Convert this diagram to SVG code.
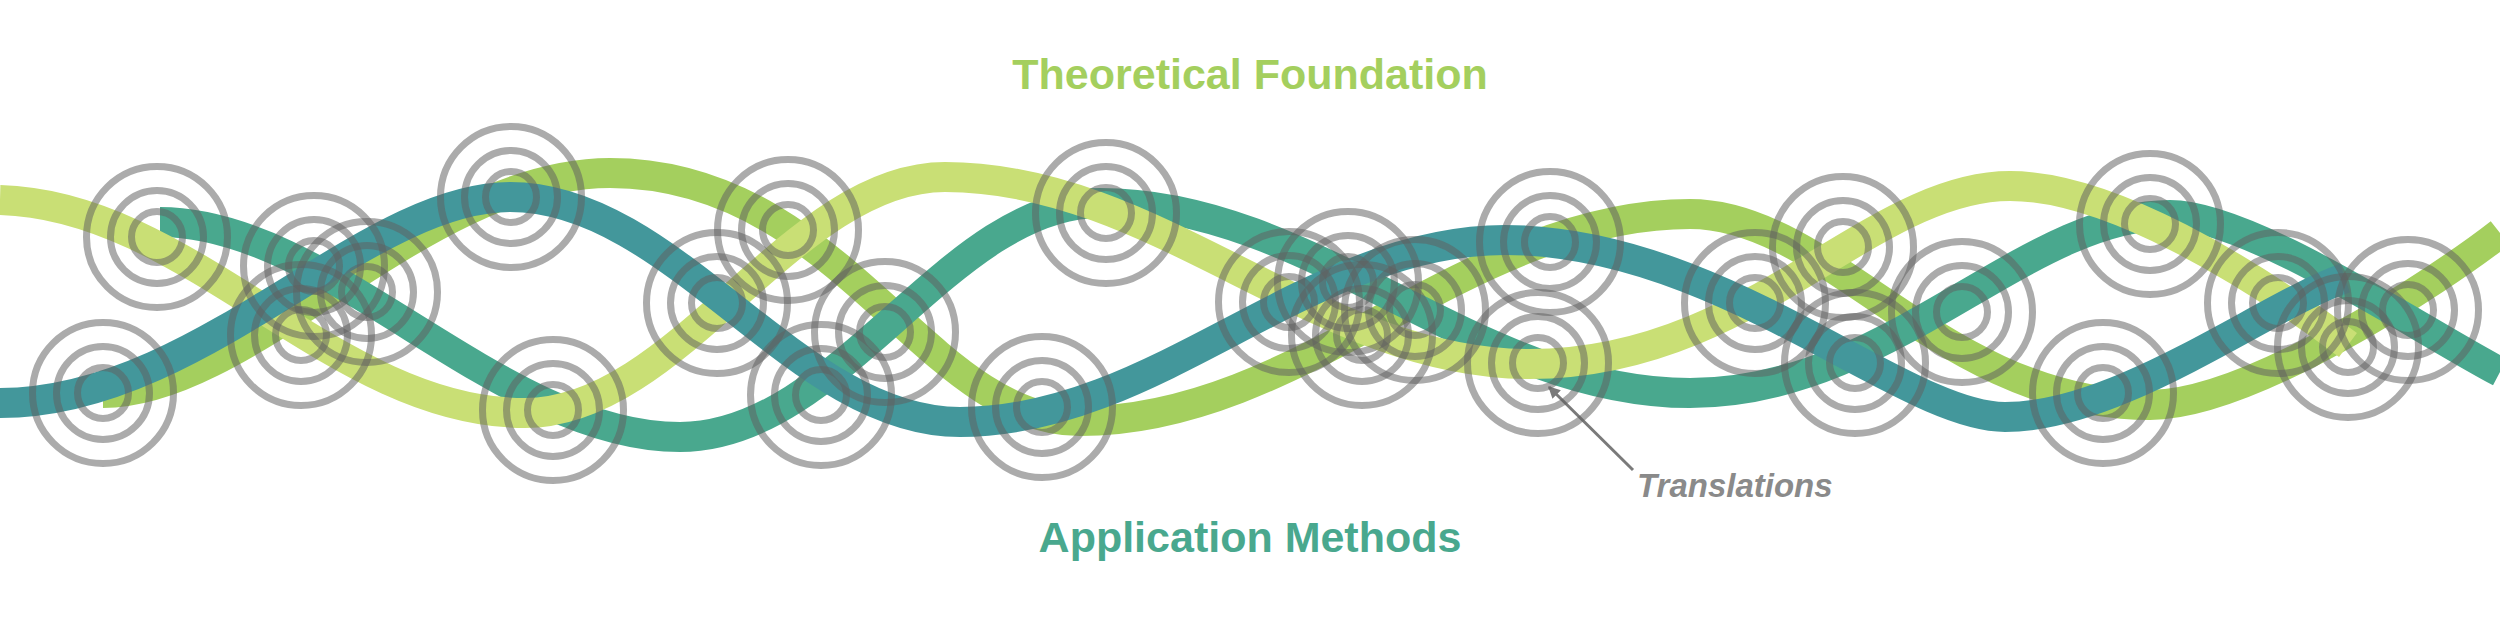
<svg xmlns="http://www.w3.org/2000/svg" xmlns:xlink="http://www.w3.org/1999/xlink" width="2500" height="639" viewBox="0 0 2500 639">
<style>
.strand{fill:none;stroke-width:30;stroke-linecap:butt}
.lg{stroke:#c9df75}.mg{stroke:#a4cf5e}.tg{stroke:#49a88e}.dt{stroke:#43979b}
.ring{fill:none;stroke:#606060;stroke-opacity:0.53;stroke-width:7}
.title{font-family:"Liberation Sans",Arial,sans-serif;font-weight:bold;font-size:43px;text-anchor:middle}
.note{font-family:"Liberation Sans",Arial,sans-serif;font-weight:bold;font-style:italic;font-size:33px;fill:#8a8a8a}
</style>
<defs>
<g id="tgt">
<circle class="ring" r="70.5"/>
<circle class="ring" r="46.5"/>
<circle class="ring" r="25.5"/>
</g>
<marker id="ah" viewBox="0 0 10 10" refX="9" refY="5" markerWidth="4" markerHeight="4" orient="auto" markerUnits="strokeWidth">
<path d="M0,0 L10,5 L0,10 z" fill="#7a7a7a"/>
</marker>
</defs>
<text class="title" x="1250" y="89" fill="#a4cf5e">Theoretical Foundation</text>
<text class="title" x="1250" y="552" fill="#49a88e">Application Methods</text>
<g id="connectors">
<path id="strand-mg" class="strand mg" d="M103,393 C250,393 425,173 610,173 C840,173 925,421 1080,421 C1302,421 1468,214 1690,214 C1830,214 1943,405 2150,405 C2250,405 2440,280 2500,233"/>
<path id="strand-tg" class="strand tg" d="M160,222 C330,222 500,437 680,437 C840,437 948,203 1100,203 C1315,203 1475,393 1690,393 C1890,393 2023,215 2170,215 C2250,215 2420,330 2500,372"/>
<path id="strand-lg" class="strand lg" d="M0,200 C191,205 334,413 525,413 C678,413 792,177 945,177 C1158,177 1317,364 1530,364 C1750,364 1870,186 2010,186 C2110,186 2250,272 2348,345"/>
<path id="strand-dt" class="strand dt" d="M0,403 C200,403 363,197 510,197 C674,197 796,422 960,422 C1158,422 1307,240 1505,240 C1720,240 1902,417 2005,417 C2120,417 2265,306 2345,278"/>
<line id="translations-arrow" x1="1633" y1="470" x2="1549" y2="387" stroke="#7a7a7a" stroke-width="3" marker-end="url(#ah)"/>
</g>
<g id="t1"><use href="#tgt" x="157" y="237"/></g>
<g id="t2"><use href="#tgt" x="103" y="393"/></g>
<g id="t3"><use href="#tgt" x="314" y="266"/></g>
<g id="t4"><use href="#tgt" x="367" y="292"/></g>
<g id="t5"><use href="#tgt" x="301" y="335"/></g>
<g id="t6"><use href="#tgt" x="511" y="197"/></g>
<g id="t7"><use href="#tgt" x="553" y="410"/></g>
<g id="t8"><use href="#tgt" x="788" y="230"/></g>
<g id="t9"><use href="#tgt" x="717" y="303"/></g>
<g id="t10"><use href="#tgt" x="821" y="395"/></g>
<g id="t11"><use href="#tgt" x="885" y="332"/></g>
<g id="t12"><use href="#tgt" x="1106" y="213"/></g>
<g id="t13"><use href="#tgt" x="1042" y="407"/></g>
<g id="t14"><use href="#tgt" x="1289" y="302"/></g>
<g id="t15"><use href="#tgt" x="1348" y="282"/></g>
<g id="t16"><use href="#tgt" x="1362" y="335"/></g>
<g id="t17"><use href="#tgt" x="1415" y="310"/></g>
<g id="t18"><use href="#tgt" x="1550" y="242"/></g>
<g id="t19"><use href="#tgt" x="1538" y="363"/></g>
<g id="t20"><use href="#tgt" x="1755" y="303"/></g>
<g id="t21"><use href="#tgt" x="1843" y="247"/></g>
<g id="t22"><use href="#tgt" x="1855" y="363"/></g>
<g id="t23"><use href="#tgt" x="1962" y="312"/></g>
<g id="t24"><use href="#tgt" x="2150" y="224"/></g>
<g id="t25"><use href="#tgt" x="2103" y="393"/></g>
<g id="t26"><use href="#tgt" x="2278" y="303"/></g>
<g id="t27"><use href="#tgt" x="2348" y="347"/></g>
<g id="t28"><use href="#tgt" x="2408" y="310"/></g>
<text class="note" x="1637" y="497">Translations</text>
</svg>
